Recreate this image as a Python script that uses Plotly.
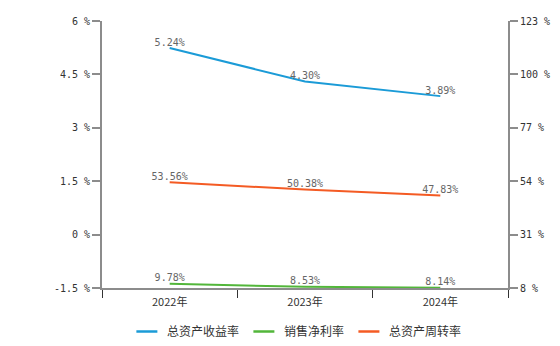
import plotly.graph_objects as go

years = ["2022年", "2023年", "2024年"]
roa = [5.24, 4.30, 3.89]            # 总资产收益率, left axis
net_margin = [9.78, 8.53, 8.14]     # 销售净利率, right axis
turnover = [53.56, 50.38, 47.83]    # 总资产周转率, right axis

left_ticks = [-1.5, 0, 1.5, 3, 4.5, 6]
left_text = ["-1.5 %", "0 %", "1.5 %", "3 %", "4.5 %", "6 %"]
right_ticks = [8, 31, 54, 77, 100, 123]
right_text = ["8 %", "31 %", "54 %", "77 %", "100 %", "123 %"]

series = [
    ("总资产收益率", roa, "#1b9bd7", "y"),
    ("销售净利率", net_margin, "#52b63a", "y2"),
    ("总资产周转率", turnover, "#f45b24", "y2"),
]

mono = dict(family="DejaVu Sans Mono", size=10, color="#666666")
axis_col = "#8c8c8c"

fig = go.Figure()
for name, vals, col, ax in series:
    fig.add_trace(go.Scatter(
        x=years, y=vals, yaxis=ax, name=name, mode="lines+text",
        line=dict(color=col, width=2),
        text=[f"{v:.2f}%" for v in vals], textposition="top center",
        textfont=mono, showlegend=False, hoverinfo="skip", cliponaxis=False,
    ))
# legend entries with short line glyphs
for name, vals, col, ax in series:
    fig.add_trace(go.Scatter(
        x=[None], y=[None], yaxis=ax, name=name, mode="markers",
        marker=dict(symbol="line-ew-open", size=15, color=col,
                    line=dict(color=col, width=2.5)),
    ))

fig.update_layout(
    width=560, height=346,
    margin=dict(l=102, r=52, t=21, b=58, autoexpand=False),
    paper_bgcolor="white", plot_bgcolor="white",
    showlegend=True,
    legend=dict(orientation="h", x=0.48, xanchor="center", y=-0.025, yanchor="bottom",
                yref="container",
                font=dict(family="Noto Sans CJK SC", size=12, color="#333333"),
                itemwidth=30, tracegroupgap=0),
    xaxis=dict(type="category", range=[-0.5, 2.5], showline=True, linecolor=axis_col,
               linewidth=2, ticks="outside", tickson="boundaries", ticklen=8,
               tickcolor="#333333", tickwidth=1, showgrid=False, zeroline=False,
               ticklabelstandoff=3,
               tickfont=dict(family="Noto Sans CJK SC", size=11, color="#333333")),
    yaxis=dict(range=[-1.5, 6], tickvals=left_ticks, ticktext=left_text,
               showline=True, linecolor=axis_col, linewidth=2, ticks="outside",
               ticklen=8, tickcolor=axis_col, tickwidth=1.5, showgrid=False,
               zeroline=False, tickfont=dict(family="DejaVu Sans Mono", size=10, color="#333333")),
    yaxis2=dict(range=[8, 123], tickvals=right_ticks, ticktext=right_text,
                overlaying="y", side="right", showline=True, linecolor=axis_col,
                linewidth=2, ticks="outside", ticklen=8, tickcolor=axis_col,
                tickwidth=1.5, showgrid=False, zeroline=False,
                tickfont=dict(family="DejaVu Sans Mono", size=10, color="#333333")),
)

fig.write_html("out.html")
